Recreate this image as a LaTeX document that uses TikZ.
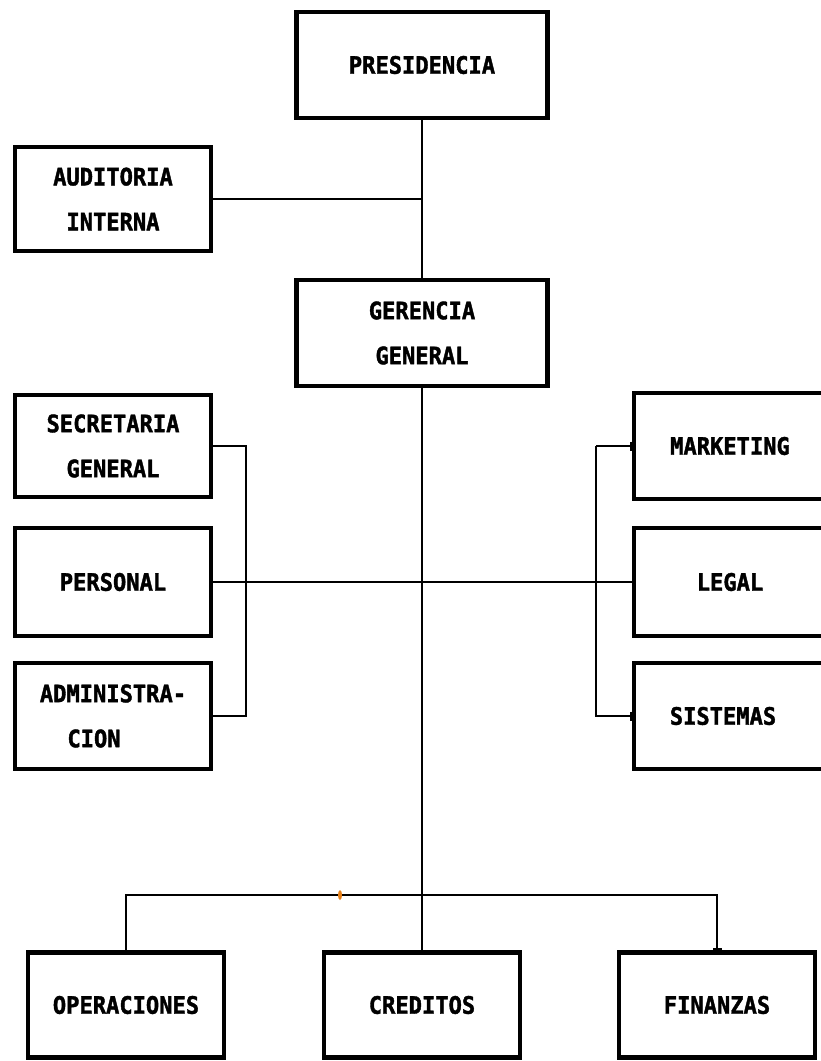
\documentclass[tikz,border=0pt]{standalone}
\usepackage{fontspec}
\newfontfamily\boxfont{DejaVu Sans Mono}[BoldFeatures={FakeBold=1.6,FakeStretch=0.92}]
\usetikzlibrary{arrows.meta}
\begin{document}
\begin{tikzpicture}[x=1pt,y=-1pt,
  unit/.style={draw=black, line width=4.5pt, inner sep=0pt, outer sep=0pt,
    minimum width=196pt, minimum height=104pt, align=center,
    font=\boxfont\bfseries\fontsize{24}{45}\selectfont},
  wide/.style={unit, minimum width=251pt, minimum height=106pt},
  link/.style={draw=black, line width=1.8pt},
  tick/.style={-{Bar[width=9pt,line width=1.6pt]}, shorten >=2.5pt}]
\useasboundingbox[fill=white] (0,0) rectangle (820,1061);
% boxes
\node[wide] (pres) at (422,65) {PRESIDENCIA};
\node[unit] (aud) at (113,199) {AUDITORIA\\INTERNA};
\node[wide] (ger) at (422,333) {GERENCIA\\GENERAL};
\node[unit, minimum height=102pt] (sec) at (113,446) {SECRETARIA\\GENERAL};
\node[unit, minimum height=108pt] (per) at (113,582) {PERSONAL};
\node[unit, minimum height=106pt] (adm) at (113,716) {ADMINISTRA-\\CION\hspace*{38pt}};
\node[unit, minimum width=200pt, minimum height=106pt] (mkt) at (734,446) {MARKETING\hspace*{8pt}};
\node[unit, minimum width=200pt, minimum height=108pt] (leg) at (734,582) {LEGAL\hspace*{8pt}};
\node[unit, minimum width=200pt, minimum height=106pt] (sis) at (734,716) {SISTEMAS\hspace*{22pt}};
\node[unit, minimum height=105pt] (ope) at (126,1005) {OPERACIONES};
\node[unit, minimum height=105pt] (cre) at (422,1005) {CREDITOS};
\node[unit, minimum height=105pt] (fin) at (717,1005) {FINANZAS};
% connectors
\draw[link] (pres.south) -- (ger.north);
\draw[link] (aud.east) -- (aud.east -| pres.south);
\draw[link] (ger.south) -- (cre.north);
\draw[link] (per.east) -- (leg.west);
\draw[link] (sec.east) -- ++(35,0) |- (adm.east);
\coordinate (rb) at (596,446);
\draw[link, tick] (rb) -- (mkt.west);
\draw[link, tick] (rb) |- (sis.west);
\coordinate (j) at (422,895);
\draw[link] (ope.north) |- (j);
\draw[link, tick] (j) -| (fin.north);
% scan speck
\fill[orange!60!brown] (340,895) ellipse (2 and 5);
\end{tikzpicture}
\end{document}
